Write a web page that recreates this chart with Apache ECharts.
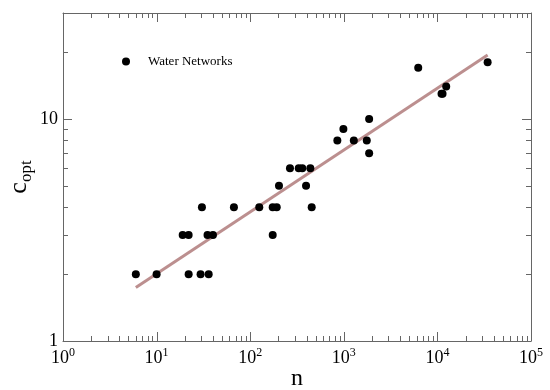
<!DOCTYPE html>
<html>
<head>
<meta charset="utf-8">
<script src="https://cdn.jsdelivr.net/npm/echarts@6/dist/echarts.min.js"></script>
<style>html,body{margin:0;padding:0;background:#fff;}#chart{width:550px;height:390px;}</style>
</head>
<body>
<div id="chart"></div>
<script>
// Data (n, c_opt)
const nValues = [6, 10, 19, 22, 22, 29.5, 30.5, 35, 36, 40, 67, 125, 174, 174, 192, 203, 266, 330, 360, 395, 439, 454, 853, 990, 1280, 1760, 1865, 1865, 6240, 11070, 11350, 12420, 34400];
const cValues = [2, 2, 3, 3, 2, 2, 4, 3, 2, 3, 4, 4, 3, 4, 4, 5, 6, 6, 6, 5, 6, 4, 8, 9, 8, 8, 10, 7, 17, 13, 13, 14, 18];
// Fit line endpoints
const fitN = [6, 34400];
const fitC = [1.74, 19.4];
// Axis ranges and ticks
const xRange = [1, 100000];
const yRange = [1, 30];
const xMajor = [1, 10, 100, 1000, 10000, 100000];
const yMajor = [1, 10];
const minorMult = [2, 3, 4, 5, 6, 7, 8, 9];

const xMinor = [];
xMajor.forEach(d => minorMult.forEach(m => { if (d * m < xRange[1]) xMinor.push(d * m); }));
const yMinor = [];
yMajor.forEach(d => minorMult.forEach(m => { if (d * m < yRange[1]) yMinor.push(d * m); }));

const FRAME = '#666';
const SERIF = '"Liberation Serif", "DejaVu Serif", serif';

const chart = echarts.init(document.getElementById('chart'), null, {renderer: 'canvas'});

function isPow10(v) {
  const e = Math.log10(v);
  return Math.abs(e - Math.round(e)) < 1e-6;
}

const scatterData = nValues.map((n, i) => [n, cValues[i]]);
const fitData = fitN.map((n, i) => [n, fitC[i]]);

const tickLine = (x1, y1, x2, y2) => ({
  type: 'line',
  shape: {x1, y1, x2, y2},
  style: {stroke: FRAME, lineWidth: 1}
});

function xTickSeries(values, len) {
  return {
    type: 'custom', data: values.map(v => [v, yRange[0]]),
    silent: true, z: 4, clip: false,
    renderItem: (params, api) => {
      const cs = params.coordSys;
      const x = Math.round(api.coord([api.value(0), yRange[0]])[0]) + 0.5;
      const b = cs.y + cs.height, t = cs.y;
      return {type: 'group', children: [tickLine(x, b, x, b - len), tickLine(x, t, x, t + len)]};
    }
  };
}
function yTickSeries(values, len) {
  return {
    type: 'custom', data: values.map(v => [xRange[0], v]),
    silent: true, z: 4, clip: false,
    renderItem: (params, api) => {
      const cs = params.coordSys;
      const y = Math.round(api.coord([xRange[0], api.value(1)])[1]) + 0.5;
      const l = cs.x, r = cs.x + cs.width;
      return {type: 'group', children: [tickLine(l, y, l + len, y), tickLine(r, y, r - len, y)]};
    }
  };
}

const option = {
  animation: false,
  backgroundColor: '#fff',
  grid: {left: 63, right: 19, top: 13, bottom: 49, containLabel: false, outerBoundsMode: 'none'},
  legend: {
    data: ['Water Networks'],
    left: 122, top: 55, padding: 0,
    itemWidth: 8, itemHeight: 8, itemGap: 0,
    icon: 'circle',
    textStyle: {fontFamily: SERIF, fontSize: 13, color: '#000', padding: [0, 0, 0, 13]}
  },
  xAxis: [{
    type: 'log', logBase: 10, min: xRange[0], max: xRange[1],
    name: 'n', nameLocation: 'middle', nameGap: 26, nameMoveOverlap: false,
    nameTextStyle: {fontFamily: SERIF, fontSize: 24, color: '#000'},
    axisLine: {show: true, lineStyle: {color: FRAME, width: 1}},
    axisTick: {show: false},
    splitLine: {show: false},
    minorTick: {show: false},
    axisLabel: {
      margin: 6,
      formatter: v => isPow10(v) ? '{b|10}{s|' + Math.round(Math.log10(v)) + '}' : '',
      rich: {
        b: {fontFamily: SERIF, fontSize: 18, color: '#000', lineHeight: 18, padding: [5, 0, 0, 0]},
        s: {fontFamily: SERIF, fontSize: 12, color: '#000', lineHeight: 12, verticalAlign: 'top'}
      }
    }
  }, {
    type: 'log', logBase: 10, min: xRange[0], max: xRange[1], position: 'top',
    axisLine: {show: true, lineStyle: {color: FRAME, width: 1}},
    axisTick: {show: false},
    axisLabel: {show: false}, splitLine: {show: false}
  }],
  yAxis: [{
    type: 'log', logBase: 10, min: yRange[0], max: yRange[1],
    name: '{c|c}{s|opt}', nameLocation: 'middle', nameRotate: 90, nameGap: 28, nameMoveOverlap: false,
    nameTextStyle: {
      rich: {
        c: {fontFamily: SERIF, fontSize: 26, color: '#000', lineHeight: 26, padding: [0, 0, 6, 0]},
        s: {fontFamily: SERIF, fontSize: 17, color: '#000', lineHeight: 17, verticalAlign: 'bottom'}
      }
    },
    axisLine: {show: true, lineStyle: {color: FRAME, width: 1}},
    axisTick: {show: false},
    splitLine: {show: false},
    axisLabel: {
      margin: 5,
      fontFamily: SERIF, fontSize: 18, color: '#000',
      formatter: v => isPow10(v) ? String(Math.round(v)) : ''
    }
  }, {
    type: 'log', logBase: 10, min: yRange[0], max: yRange[1], position: 'right',
    axisLine: {show: true, lineStyle: {color: FRAME, width: 1}},
    axisTick: {show: false},
    axisLabel: {show: false}, splitLine: {show: false}
  }],
  series: [{
    name: 'fit', type: 'line', data: fitData,
    showSymbol: false, symbol: 'none',
    lineStyle: {color: '#bc8f8f', width: 3},
    z: 2, silent: true
  }, {
    name: 'Water Networks', type: 'scatter', data: scatterData,
    symbol: 'circle', symbolSize: 8,
    itemStyle: {color: '#000', opacity: 1},
    z: 3
  },
    xTickSeries(xMajor, 9), xTickSeries(xMinor, 5),
    yTickSeries(yMajor, 9), yTickSeries(yMinor, 5)
  ]
};
chart.setOption(option);
</script>
</body>
</html>
